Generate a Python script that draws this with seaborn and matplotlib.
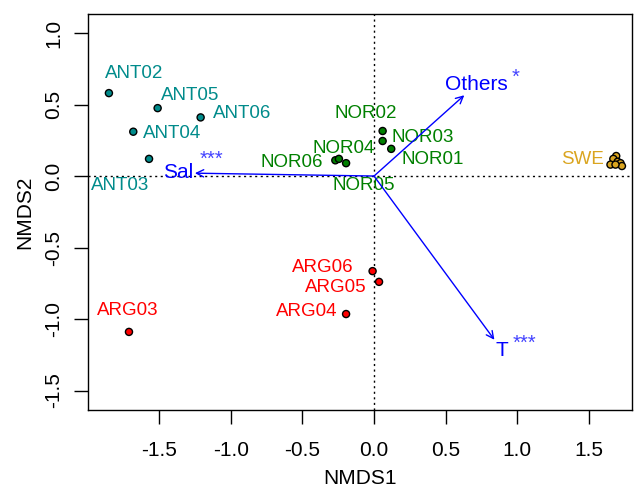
import numpy as np
import pandas as pd
import seaborn as sns
from matplotlib import pyplot as plt

# Site scores (NMDS1, NMDS2)
sites = ["ANT02", "ANT05", "ANT06", "ANT04", "ANT03",
         "NOR02", "NOR03", "NOR01", "NOR04", "NOR06", "NOR05",
         "ARG06", "ARG05", "ARG04", "ARG03",
         "SWE", "SWE", "SWE", "SWE", "SWE", "SWE", "SWE"]
nmds1 = [-1.85, -1.51, -1.21, -1.68, -1.57,
         0.06, 0.06, 0.12, -0.27, -0.245, -0.195,
         -0.01, 0.035, -0.195, -1.71,
         1.69, 1.67, 1.65, 1.70, 1.72, 1.73, 1.685]
nmds2 = [0.58, 0.475, 0.41, 0.31, 0.12,
         0.315, 0.245, 0.19, 0.11, 0.12, 0.09,
         -0.665, -0.74, -0.965, -1.09,
         0.14, 0.12, 0.08, 0.10, 0.09, 0.07, 0.08]
region = [s[:3] for s in sites]

# Environmental vectors
env_names = ["Sal", "Others", "T"]
env_x = [-1.25, 0.63, 0.84]
env_y = [0.02, 0.565, -1.145]
env_sig = ["***", "*", "***"]

# Label placement
site_labels = ["ANT02", "ANT05", "ANT06", "ANT04", "ANT03",
               "NOR02", "NOR03", "NOR01", "NOR04", "NOR06", "NOR05",
               "ARG06", "ARG05", "ARG04", "ARG03", "SWE"]
lab_x = [-1.675, -1.284, -0.921, -1.41, -1.772,
         -0.056, 0.342, 0.412, -0.209, -0.572, -0.07,
         -0.356, -0.265, -0.468, -1.717, 1.452]
lab_y = [0.72, 0.566, 0.44, 0.294, -0.063,
         0.434, 0.273, 0.119, 0.196, 0.098, -0.063,
         -0.643, -0.776, -0.944, -0.937, 0.119]
env_lab_x = [-1.368, 0.712, 0.893]
env_lab_y = [0.028, 0.643, -1.217]
sig_x = [-1.137, 0.991, 1.047]
sig_y = [0.077, 0.65, -1.21]

colors = {"ANT": "#008B8B", "NOR": "#008000", "ARG": "#FF0000", "SWE": "#DAA520"}

df = pd.DataFrame({"site": sites, "NMDS1": nmds1, "NMDS2": nmds2, "region": region})

sns.set_theme(style="ticks")
plt.rcParams["font.family"] = ["Liberation Sans", "DejaVu Sans"]
plt.rcParams.update({"text.color": "black", "axes.labelcolor": "black",
                     "xtick.color": "black", "ytick.color": "black"})

fig = plt.figure(figsize=(6.39, 4.92), dpi=100)
ax = fig.add_axes([0.1377, 0.1667, 0.8513, 0.8048])

ax.axhline(0, color="black", linestyle=(0, (1.5, 2.5)), linewidth=1, zorder=1)
ax.axvline(0, color="black", linestyle=(0, (1.5, 2.5)), linewidth=1, zorder=1)

sns.scatterplot(data=df, x="NMDS1", y="NMDS2", hue="region", palette=colors,
                edgecolor="black", linewidth=1, s=26, legend=False, ax=ax, zorder=3)

for name, x, y in zip(site_labels, lab_x, lab_y):
    ax.text(x, y, name, color=colors[name[:3]], fontsize=13.5, ha="center", va="center")

for name, x, y, lx, ly, sig, sx, sy in zip(env_names, env_x, env_y, env_lab_x, env_lab_y,
                                          env_sig, sig_x, sig_y):
    ax.annotate("", xy=(x, y), xytext=(0, 0),
                arrowprops=dict(arrowstyle="->", color="#0000FF", lw=1, mutation_scale=13,
                                shrinkA=0, shrinkB=0))
    ax.text(lx, ly, name, color="#0000FF", fontsize=15, ha="center", va="center")
    ax.text(sx, sy, sig, color="#4444FF", fontsize=14.5, ha="center", va="baseline")

ax.set_xlim(-1.996, 1.80)
ax.set_ylim(-1.636, 1.133)
ax.set_xticks([-1.5, -1.0, -0.5, 0.0, 0.5, 1.0, 1.5])
ax.set_yticks([-1.5, -1.0, -0.5, 0.0, 0.5, 1.0])
ax.set_xticklabels(["-1.5", "-1.0", "-0.5", "0.0", "0.5", "1.0", "1.5"])
ax.set_yticklabels(["-1.5", "-1.0", "-0.5", "0.0", "0.5", "1.0"], rotation=90, va="center")
ax.tick_params(axis="both", labelsize=15, length=10, width=1, direction="out")
ax.tick_params(axis="x", pad=12)
ax.tick_params(axis="y", pad=8)
for sp in ax.spines.values():
    sp.set_color("black")
    sp.set_linewidth(1)

ax.set_xlabel("NMDS1", fontsize=15, labelpad=7)
ax.set_ylabel("NMDS2", fontsize=15, labelpad=7)

plt.savefig("out.png", dpi=100)
